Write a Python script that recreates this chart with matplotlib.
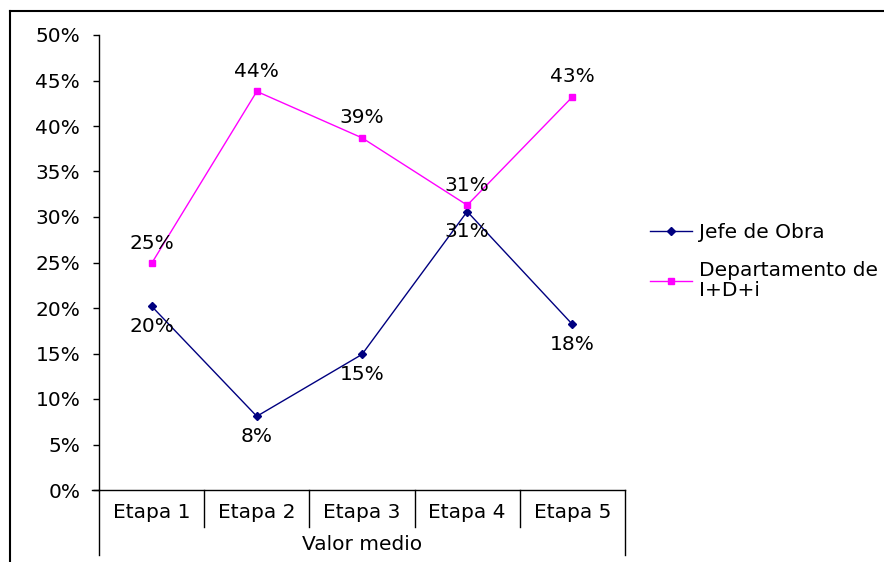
import matplotlib.pyplot as plt
from matplotlib.lines import Line2D

plt.rcParams['font.family'] = ['DejaVu Sans']
FS = 14.5

etapas = ["Etapa 1", "Etapa 2", "Etapa 3", "Etapa 4", "Etapa 5"]
grupo = "Valor medio"
jefe_obra = [0.202, 0.081, 0.149, 0.306, 0.182]
dept_idi = [0.249, 0.438, 0.387, 0.313, 0.432]
nombres = ["Jefe de Obra", "Departamento de\nI+D+i"]

W, H = 884, 562
fig = plt.figure(figsize=(W / 100, H / 100), dpi=100)
ax = fig.add_axes([99 / W, 1 - 490 / H, (625 - 99) / W, (490 - 35) / H])

x = range(len(etapas))
ax.plot(x, jefe_obra, color='#000080', lw=1, marker='D', ms=4.5,
        label=nombres[0])
ax.plot(x, dept_idi, color='#FF00FF', lw=1, marker='s', ms=5,
        label=nombres[1])

# data labels
for i, v in enumerate(jefe_obra):
    ax.annotate(f"{v * 100:.0f}%", (i, v), xytext=(0, -14.5), textcoords='offset points',
                ha='center', va='center', fontsize=FS)
for i, v in enumerate(dept_idi):
    ax.annotate(f"{v * 100:.0f}%", (i, v), xytext=(0, 14.5), textcoords='offset points',
                ha='center', va='center', fontsize=FS)

ax.set_xlim(-0.5, len(etapas) - 0.5)
ax.set_ylim(0, 0.5)
ax.set_yticks([i * 0.05 for i in range(11)])
ax.set_yticklabels([f"{i * 5}%" for i in range(11)], fontsize=FS)
ax.tick_params(axis='y', direction='out', length=4, width=1, pad=9.5)
ax.set_xticks([])

for s in ['top', 'right']:
    ax.spines[s].set_visible(False)
ax.spines['left'].set_linewidth(1)
ax.spines['bottom'].set_linewidth(1)
ax.spines['bottom'].set_bounds(-0.57, len(etapas) - 0.5)

# multi-level category axis
tr = ax.get_xaxis_transform()
sep_short = -(527 - 490) / 455
sep_long = -(555 - 490) / 455
for k in range(len(etapas) + 1):
    b = k - 0.5
    y1 = sep_long if k in (0, len(etapas)) else sep_short
    ax.plot([b, b], [0, y1], color='black', lw=1, transform=tr, clip_on=False)
for i, e in enumerate(etapas):
    ax.text(i, -(513 - 490) / 455, e, transform=tr, ha='center', va='center', fontsize=FS)
ax.text((len(etapas) - 1) / 2, -(545 - 490) / 455, grupo, transform=tr,
        ha='center', va='center', fontsize=FS)

leg = fig.legend(loc='upper left', bbox_to_anchor=(642 / W, 1 - 215 / H), frameon=False,
                 fontsize=FS, handlelength=2.1, handletextpad=0.35, labelspacing=0.95,
                 borderaxespad=0)
for t in leg.get_texts():
    t.set_linespacing(1.05)

# outer chart border (top and left)
fig.add_artist(Line2D([10 / W, 1], [1 - 11 / H, 1 - 11 / H], color='black', lw=1.5,
                      transform=fig.transFigure))
fig.add_artist(Line2D([10 / W, 10 / W], [0, 1 - 11 / H], color='black', lw=1.5,
                      transform=fig.transFigure))

fig.savefig("out.png", dpi=100)
